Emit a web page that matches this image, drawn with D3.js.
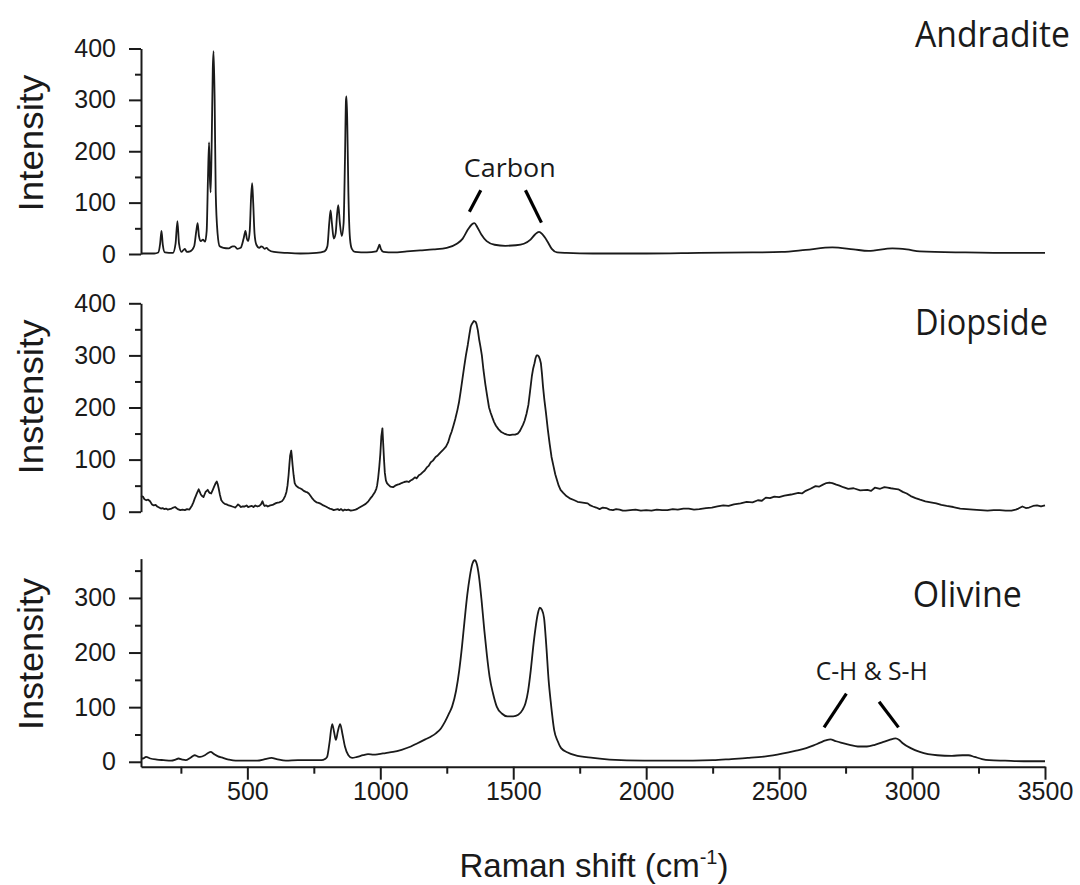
<!DOCTYPE html>
<html><head><meta charset="utf-8">
<script src="https://cdn.jsdelivr.net/npm/d3@7"></script>
<style>body{margin:0;background:#fff}</style>
</head><body><svg id="chart" width="1080" height="885"></svg>
<script>
// ---------- DATA (Raman shift cm-1, intensity) ----------
const andradite = [[100,1],[150,1],[165,3],[172,20],[177,45],[182,18],[190,3],[220,2],[230,20],[237,64],[243,20],[252,4],[260,8],[265,10],[272,4],[285,5],[300,15],[308,45],[313,60],[318,35],[325,25],[333,28],[341,24],[347,45],[352,150],[356,217],[359,150],[362,120],[366,220],[370,360],[373,395],[377,300],[381,120],[388,40],[396,15],[410,12],[430,11],[445,15],[452,15],[462,10],[475,12],[486,30],[493,45],[498,30],[503,25],[509,45],[514,110],[518,138],[522,100],[527,40],[534,18],[545,12],[552,15],[557,14],[565,10],[572,12],[580,8],[600,4],[650,2],[700,1],[760,2],[790,5],[801,15],[808,60],[813,85],[818,60],[825,30],[832,40],[838,80],[842,95],[848,60],[855,35],[862,60],[867,180],[871,300],[873,307],[876,250],[880,120],[886,30],[893,10],[905,4],[950,3],[985,5],[992,12],[997,18],[1002,10],[1012,4],[1050,3],[1100,5],[1150,7],[1200,9],[1250,12],[1288,20],[1310,30],[1330,48],[1345,58],[1354,60],[1365,52],[1380,38],[1400,25],[1430,18],[1470,16],[1510,17],[1540,20],[1565,28],[1582,38],[1597,43],[1610,38],[1628,25],[1645,10],[1665,3],[1700,2],[1800,1],[2000,1],[2200,2],[2400,3],[2510,4],[2600,8],[2700,13],[2780,9],[2836,6],[2926,11],[2980,9],[3029,5],[3200,3],[3400,2],[3500,2]];

const diopside = [[100,30],[107,29],[113,24],[120,22],[127,23],[134,20],[141,14],[148,12],[155,13],[161,10],[168,8],[175,6],[181,7],[187,5],[194,6],[200,4],[207,5],[215,6],[222,8],[228,9],[233,7],[238,5],[243,4],[248,3],[256,4],[265,3],[273,5],[282,4],[287,8],[292,12],[297,18],[302,25],[306,30],[310,35],[317,43],[321,38],[325,33],[330,30],[335,28],[339,33],[343,38],[351,42],[355,38],[358,36],[364,35],[370,42],[375,48],[380,54],[385,58],[389,52],[392,45],[397,32],[402,22],[408,18],[415,15],[422,14],[430,12],[437,11],[443,10],[449,9],[455,8],[460,11],[465,14],[470,12],[475,9],[482,10],[490,10],[497,12],[503,9],[510,10],[517,11],[523,9],[530,12],[538,10],[545,11],[551,14],[557,20],[561,14],[565,11],[571,12],[577,10],[586,12],[595,13],[602,15],[610,17],[620,18],[630,20],[636,24],[642,30],[647,38],[651,50],[655,70],[658,90],[661,108],[665,117],[667,108],[670,90],[674,70],[678,55],[683,50],[688,48],[693,46],[698,45],[705,43],[712,40],[720,38],[726,37],[731,35],[738,30],[745,25],[752,21],[760,18],[768,17],[777,15],[786,12],[795,10],[802,8],[810,6],[817,5],[825,3],[832,4],[840,5],[846,3],[852,5],[860,2],[866,4],[873,3],[880,4],[889,2],[899,3],[907,4],[915,6],[925,9],[935,12],[945,15],[955,20],[962,25],[970,30],[975,34],[980,38],[985,44],[988,50],[992,65],[996,85],[1000,110],[1004,145],[1008,160],[1011,130],[1014,100],[1017,75],[1021,60],[1025,55],[1030,52],[1038,48],[1048,47],[1056,50],[1065,52],[1072,53],[1080,55],[1090,57],[1100,58],[1107,57],[1114,60],[1122,62],[1130,66],[1137,64],[1145,70],[1152,72],[1160,76],[1167,79],[1175,85],[1182,88],[1190,95],[1198,98],[1208,105],[1216,108],[1225,113],[1235,118],[1247,125],[1255,133],[1262,145],[1268,153],[1275,165],[1282,178],[1290,195],[1296,210],[1302,230],[1309,255],[1316,280],[1322,300],[1329,320],[1335,340],[1340,355],[1344,360],[1348,363],[1352,366],[1356,365],[1359,364],[1362,360],[1367,348],[1372,330],[1377,316],[1382,300],[1388,272],[1395,245],[1402,222],[1409,200],[1415,190],[1422,180],[1428,172],[1435,165],[1445,158],[1455,153],[1466,150],[1477,148],[1487,147],[1497,148],[1507,148],[1517,150],[1524,154],[1530,160],[1537,167],[1543,175],[1550,188],[1557,205],[1563,230],[1570,260],[1575,275],[1580,285],[1584,295],[1588,300],[1592,300],[1596,298],[1600,293],[1604,285],[1608,265],[1612,240],[1617,215],[1623,190],[1630,158],[1637,130],[1644,105],[1652,86],[1658,72],[1665,60],[1671,50],[1678,42],[1688,36],[1700,30],[1715,25],[1730,22],[1742,19],[1755,18],[1767,17],[1780,16],[1790,12],[1800,10],[1812,8],[1825,5],[1837,8],[1850,7],[1862,4],[1875,3],[1887,5],[1900,4],[1912,2],[1923,2],[1940,3],[1960,4],[1980,2],[2000,3],[2020,2],[2040,4],[2060,3],[2080,3],[2100,5],[2119,4],[2140,6],[2160,6],[2180,4],[2200,5],[2225,7],[2247,8],[2268,10],[2290,12],[2310,11],[2330,14],[2355,16],[2378,19],[2400,18],[2420,22],[2435,21],[2450,27],[2466,26],[2482,29],[2500,28],[2520,31],[2545,33],[2572,36],[2586,35],[2600,40],[2618,44],[2637,49],[2650,48],[2665,52],[2678,55],[2689,56],[2700,55],[2715,52],[2727,50],[2741,47],[2760,44],[2780,45],[2805,41],[2832,42],[2846,40],[2860,46],[2880,44],[2896,47],[2908,46],[2920,45],[2935,44],[2948,43],[2965,38],[2980,35],[2995,30],[3013,26],[3030,23],[3050,20],[3070,18],[3091,16],[3110,13],[3130,11],[3155,9],[3181,6],[3205,5],[3230,4],[3257,3],[3284,2],[3307,3],[3330,3],[3352,2],[3374,2],[3390,4],[3400,6],[3415,10],[3428,7],[3440,8],[3455,11],[3470,12],[3485,10],[3500,12]];

const olivine = [[100,6],[107,6],[119,9],[135,6],[160,4],[185,3],[213,2],[230,4],[241,6],[255,4],[268,3],[285,7],[302,12],[312,10],[322,9],[340,12],[352,16],[362,18],[375,14],[390,10],[403,8],[430,4],[456,2],[500,2],[537,2],[560,4],[575,6],[591,7],[610,5],[645,2],[690,3],[725,3],[760,3],[779,3],[792,5],[800,9],[809,35],[819,69],[826,55],[833,40],[840,55],[849,69],[858,50],[867,28],[880,12],[894,7],[913,9],[935,12],[954,14],[975,13],[994,14],[1020,16],[1048,18],[1080,22],[1115,28],[1140,34],[1169,41],[1190,46],[1209,52],[1228,61],[1243,73],[1258,88],[1270,101],[1285,130],[1297,168],[1307,210],[1316,254],[1327,305],[1337,340],[1346,362],[1355,369],[1363,362],[1371,340],[1381,295],[1391,242],[1401,195],[1411,156],[1424,125],[1438,101],[1458,88],[1478,83],[1500,83],[1519,86],[1535,95],[1546,107],[1556,130],[1566,168],[1575,210],[1583,242],[1592,270],[1600,282],[1608,278],[1616,263],[1624,215],[1633,150],[1641,110],[1654,58],[1667,38],[1680,25],[1705,17],[1732,12],[1800,7],[1862,4],[1992,2],[2100,2],[2251,3],[2320,5],[2382,7],[2450,10],[2511,15],[2560,20],[2602,25],[2630,30],[2654,35],[2675,39],[2693,41],[2712,38],[2732,35],[2765,31],[2796,28],[2830,28],[2860,31],[2890,36],[2915,40],[2938,43],[2952,40],[2965,34],[2995,25],[3029,18],[3060,14],[3095,12],[3150,11],[3190,12],[3212,12],[3235,9],[3263,5],[3290,3],[3350,2],[3420,1],[3500,1]];

const xTicksMajor = [500,1000,1500,2000,2500,3000,3500];
const xTicksMinor = [250,750,1250,1750,2250,2750,3250];
const yTicksMajorTop = [0,100,200,300,400];
const yTicksMajorBottom = [0,100,200,300];
const yTicksMinor = [50,150,250,350];
const mineralNames = ["Andradite","Diopside","Olivine"];
const yTitles = ["Intensity","Instensity","Instensity"];
const xTitle = "Raman shift (cm";
const xTitleSup = "-1";
// annotations: [panel, text, x, y]; bracket lines: [panel, x1, y1, x2, y2]
const annotTexts = [[0,"Carbon",1487,150],[2,"C-H & S-H",2848,149]];
const annotLines = [[0,1335,82,1378,124],[0,1546,124,1606,61],[2,2669,63,2753,125],[2,2876,110,2949,63]];
const nameAnchors = [[3594,403],[3511,339],[3413,283]];

// ---------- LAYOUT ----------
const svg = d3.select("#chart");
svg.append("rect").attr("width",1080).attr("height",885).attr("fill","#fff");
const x = d3.scaleLinear().domain([100,3500]).range([141,1045]);
const panels = [
  {data: andradite, y: d3.scaleLinear().domain([0,400]).range([254,48.5]), major: yTicksMajorTop, curve: d3.curveMonotoneX},
  {data: diopside,  y: d3.scaleLinear().domain([0,400]).range([511.7,303.3]), major: yTicksMajorTop, curve: d3.curveLinear},
  {data: olivine,   y: d3.scaleLinear().domain([-9,372]).range([766.7,558.6]), major: yTicksMajorBottom, curve: d3.curveMonotoneX}
];
const ink = "#1a1a1a";
const tickFont = "'Liberation Sans', Arial, sans-serif";
const labelFont = "'Open Sans', 'Noto Sans', sans-serif";
const nameLens = [155,133,109];
const annotLens = [92,112];
const titleCenters = [143,397,654];
const titleLens = [137,155,152];

panels.forEach((p,i)=>{
  const g = svg.append("g");
  const minor = g.append("g").attr("transform","translate(141,0)")
    .call(d3.axisLeft(p.y).tickValues(yTicksMinor).tickSize(6).tickSizeOuter(0).tickFormat(""));
  minor.select(".domain").remove();
  const major = g.append("g").attr("transform","translate(141,0)")
    .call(d3.axisLeft(p.y).tickValues(p.major).tickSize(12).tickPadding(13).tickSizeOuter(0));
  g.selectAll("path,line").attr("stroke",ink).attr("stroke-width",2);
  major.selectAll("text").attr("font-family",tickFont).attr("font-size",25).attr("fill",ink);
  g.append("path").datum(p.data)
    .attr("fill","none").attr("stroke",ink).attr("stroke-width",1.8).attr("stroke-linejoin","round")
    .attr("d", d3.line().x(d=>x(d[0])).y(d=>p.y(d[1])).curve(p.curve));
  g.append("text").attr("transform",`translate(43,${titleCenters[i]}) rotate(-90)`)
    .attr("text-anchor","middle").attr("font-family",tickFont).attr("font-size",35).attr("fill",ink)
    .attr("textLength",titleLens[i]).attr("lengthAdjust","spacingAndGlyphs")
    .text(yTitles[i]);
  const na = nameAnchors[i];
  g.append("text").attr("x",x(na[0])-nameLens[i]).attr("y",p.y(na[1]))
    .attr("font-family",labelFont).attr("font-size",36).attr("fill",ink)
    .attr("textLength",nameLens[i]).attr("lengthAdjust","spacingAndGlyphs")
    .text(mineralNames[i]);
});

annotTexts.forEach((a,k)=>{
  const p = panels[a[0]];
  svg.append("text").attr("x",x(a[2])-annotLens[k]/2).attr("y",p.y(a[3]))
    .attr("font-family",labelFont).attr("font-size",26).attr("fill",ink)
    .attr("textLength",annotLens[k]).attr("lengthAdjust","spacingAndGlyphs")
    .text(a[1]);
});
annotLines.forEach(l=>{
  const p = panels[l[0]];
  svg.append("line").attr("x1",x(l[1])).attr("y1",p.y(l[2])).attr("x2",x(l[3])).attr("y2",p.y(l[4]))
    .attr("stroke","#000").attr("stroke-width",3.2);
});

const yBase = panels[2].y(-9);
const xMinor = svg.append("g").attr("transform",`translate(0,${yBase})`)
  .call(d3.axisBottom(x).tickValues(xTicksMinor).tickSize(7).tickSizeOuter(0).tickFormat(""));
xMinor.select(".domain").remove();
const xMajor = svg.append("g").attr("transform",`translate(0,${yBase})`)
  .call(d3.axisBottom(x).tickValues(xTicksMajor).tickSize(13).tickPadding(3).tickSizeOuter(0).tickFormat(d3.format("d")));
svg.selectAll("g path.domain, g .tick line").attr("stroke",ink).attr("stroke-width",2);
xMajor.selectAll("text").attr("font-family",tickFont).attr("font-size",25).attr("fill",ink);

const xt = svg.append("text").attr("x",594).attr("y",876.7).attr("text-anchor","middle")
  .attr("font-family",tickFont).attr("font-size",33).attr("fill",ink);
xt.append("tspan").text(xTitle);
xt.append("tspan").attr("font-size",20).attr("dy",-13).text(xTitleSup);
xt.append("tspan").attr("dy",13).text(")");
</script></body></html>
